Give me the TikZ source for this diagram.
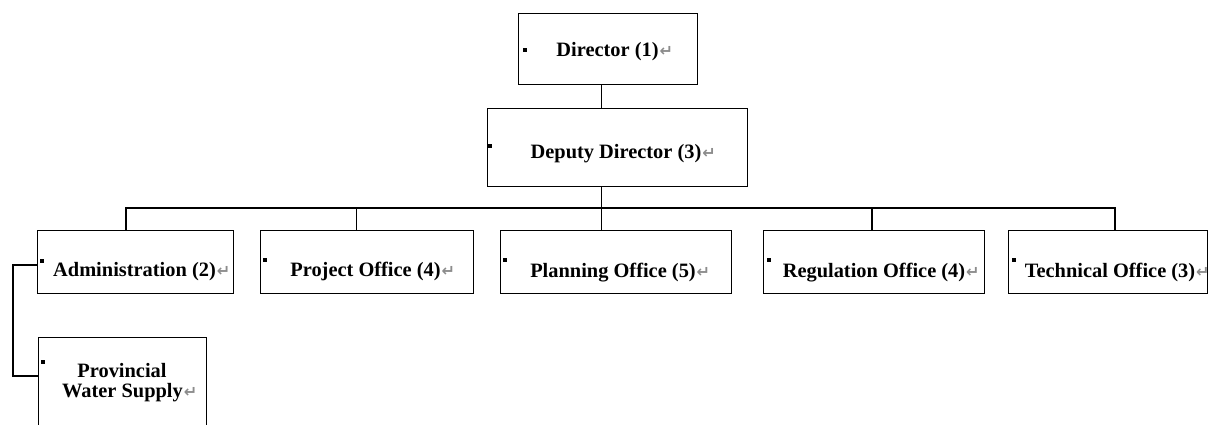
\documentclass[tikz,border=0pt]{standalone}
\usepackage{fontspec}
\setmainfont{Liberation Serif}
\newfontfamily\symfnt{DejaVu Sans}
\newcommand{\retmark}{\rlap{\hspace{1pt}\raisebox{0pt}{\textcolor{black!45}{\symfnt\fontsize{16}{16}\selectfont ↵}}}}
\newcommand{\bul}[3]{\fill ([xshift=#2pt,yshift=-#3pt]#1.north west) +(-1.7,-1.7) rectangle +(1.7,1.7);}
\begin{document}
\begin{tikzpicture}[x=1pt,y=-1pt,
  box/.style={draw, line width=1.4pt, inner sep=0pt, anchor=north west},
  txt/.style={inner sep=0pt, anchor=base, font=\bfseries\fontsize{20.4}{21}\selectfont},
  link/.style={line width=1.3pt}]
\useasboundingbox (0,0) rectangle (1208,425);
% boxes
\node[box, minimum width=179pt, minimum height=71pt] (dir) at (518,13) {};
\node[box, minimum width=260pt, minimum height=78pt] (dep) at (487,108) {};
\node[box, minimum width=196pt, minimum height=63pt] (admin) at (37,230) {};
\node[box, minimum width=213pt, minimum height=63pt] (proj) at (260,230) {};
\node[box, minimum width=231pt, minimum height=63pt] (plan) at (500,230) {};
\node[box, minimum width=221pt, minimum height=63pt] (reg) at (763,230) {};
\node[box, minimum width=199pt, minimum height=63pt] (tech) at (1008,230) {};
\node[box, minimum width=168pt, minimum height=110pt] (prov) at (38,337) {};
% texts
\node[txt] (dirT) at (607.5,57) {Director (1)\retmark};
\node[txt] (depT) at (616,158.3) {Deputy Director (3)\retmark};
\node[txt] (adminT) at (134.5,276) {Administration (2)\retmark};
\node[txt] (projT) at (365.5,276.5) {Project Office (4)\retmark};
\node[txt] (planT) at (613,277) {Planning Office (5)\retmark};
\node[txt] (regT) at (874,277) {Regulation Office (4)\retmark};
\node[txt] (techT) at (1110,277) {Technical Office (3)\retmark};
\node[txt] (provT1) at (122,377) {Provincial};
\node[txt] (provT2) at (122.5,397) {Water Supply\retmark};
% bullets
\bul{dir}{7}{37}
\bul{dep}{3}{38}
\bul{admin}{5}{31}
\bul{proj}{5}{30}
\bul{plan}{5}{30}
\bul{reg}{6}{30}
\bul{tech}{6}{30}
\bul{prov}{5}{25}
% connectors
\coordinate (trunk) at (601.5,208);
\coordinate (bL) at (126,208);
\coordinate (bR) at (1115,208);
\coordinate (pj) at (356.5,208);
\coordinate (rg) at (872,208);
\coordinate (lk) at (13,265);
\coordinate (lk2) at (13,376);
\draw[link] (trunk |- dir.south) -- (trunk |- dep.north);
\draw[link] (trunk |- dep.south) -- (trunk |- plan.north);
\draw[link] (bL |- admin.north) -- (bL) -- (bR) -- (bR |- tech.north);
\draw[link] (pj) -- (pj |- proj.north);
\draw[link] (rg) -- (rg |- reg.north);
\draw[link] (lk -| admin.west) -- (lk) -- (lk2) -- (lk2 -| prov.west);
\end{tikzpicture}
\end{document}
